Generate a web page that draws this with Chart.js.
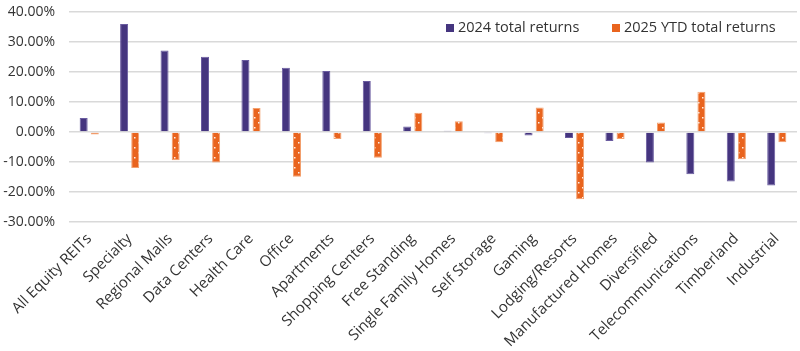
<!DOCTYPE html>
<html>
<head>
<meta charset="utf-8">
<script src="https://cdn.jsdelivr.net/npm/chart.js@4"></script>
<style>
  html, body { margin: 0; padding: 0; background: #fff; }
  #wrap { width: 800px; height: 351px; }
</style>
</head>
<body>
<div id="wrap"><canvas id="chart"></canvas></div>
<script>
const categories = [
  "All Equity REITs", "Specialty", "Regional Malls", "Data Centers", "Health Care",
  "Office", "Apartments", "Shopping Centers", "Free Standing", "Single Family Homes",
  "Self Storage", "Gaming", "Lodging/Resorts", "Manufactured Homes", "Diversified",
  "Telecommunications", "Timberland", "Industrial"
];
const returns2024 = [4.7, 36.0, 27.2, 25.1, 24.0, 21.4, 20.3, 17.0, 1.8, 0.4, -0.4, -1.2, -2.0, -3.0, -10.2, -14.1, -16.5, -17.8];
const returns2025 = [-0.8, -12.0, -9.4, -10.2, 8.0, -14.9, -2.3, -8.6, 6.4, 3.6, -3.4, 8.2, -22.4, -2.3, 3.2, 13.4, -9.1, -3.4];
const seriesNames = ["2024 total returns", "2025 YTD total returns"];

const PURPLE = "#45357f";
const ORANGE = "#e9641e";

// dotted orange fill
function dotPattern() {
  const c = document.createElement("canvas");
  c.width = 8; c.height = 10;
  const g = c.getContext("2d");
  g.fillStyle = ORANGE;
  g.fillRect(0, 0, 8, 10);
  g.fillStyle = "rgba(255,255,255,0.9)";
  g.fillRect(2, 2, 1.5, 1.5);
  g.fillRect(6, 7, 1.5, 1.5);
  return g.createPattern(c, "repeat");
}

const legendInside = {
  id: "legendInside",
  afterDraw(chart) {
    const ctx = chart.ctx;
    const y = 28;
    const items = [
      { x: 446, color: PURPLE, text: seriesNames[0] },
      { x: 612, color: ORANGE, text: seriesNames[1] },
    ];
    ctx.save();
    ctx.font = "14.5px 'Open Sans'";
    ctx.textBaseline = "middle";
    items.forEach((it) => {
      ctx.fillStyle = it.color;
      ctx.fillRect(it.x, y - 4, 8, 8);
      ctx.fillStyle = "#333";
      ctx.fillText(it.text, it.x + 12, y);
    });
    ctx.restore();
  },
};

new Chart(document.getElementById("chart"), {
  type: "bar",
  data: {
    labels: categories,
    datasets: [
      {
        label: seriesNames[0],
        data: returns2024,
        backgroundColor: PURPLE,
        borderColor: "#6a5ca0",
        borderWidth: 1,
        barPercentage: 0.72,
        categoryPercentage: 0.55,
      },
      {
        label: seriesNames[1],
        data: returns2025,
        backgroundColor: dotPattern(),
        borderColor: "#f3a06e",
        borderWidth: 1,
        barPercentage: 0.72,
        categoryPercentage: 0.55,
      },
    ],
  },
  options: {
    responsive: true,
    maintainAspectRatio: false,
    animation: false,
    layout: { padding: { top: 12, right: 3, left: 0, bottom: 0 } },
    plugins: {
      legend: { display: false },
      tooltip: { enabled: false },
    },
    scales: {
      x: {
        grid: { display: false },
        border: { display: false },
        afterFit: (scale) => { scale.height = 129; },
        ticks: {
          minRotation: 45,
          maxRotation: 45,
          color: "#333",
          font: { family: "Open Sans", size: 15 },
          padding: 0,
        },
      },
      y: {
        min: -30,
        max: 40,
        border: { display: false },
        grid: { color: "#d9d9d9", lineWidth: 1.5, drawTicks: false },
        afterFit: (scale) => {
          scale.width = 69;
          scale.paddingTop = 0;
          scale.paddingBottom = 0;
        },
        ticks: {
          stepSize: 10,
          color: "#333",
          padding: 14,
          font: { family: "Open Sans", size: 14 },
          callback: (v) => v.toFixed(2) + "%",
        },
      },
    },
  },
  plugins: [legendInside],
});
</script>
</body>
</html>
